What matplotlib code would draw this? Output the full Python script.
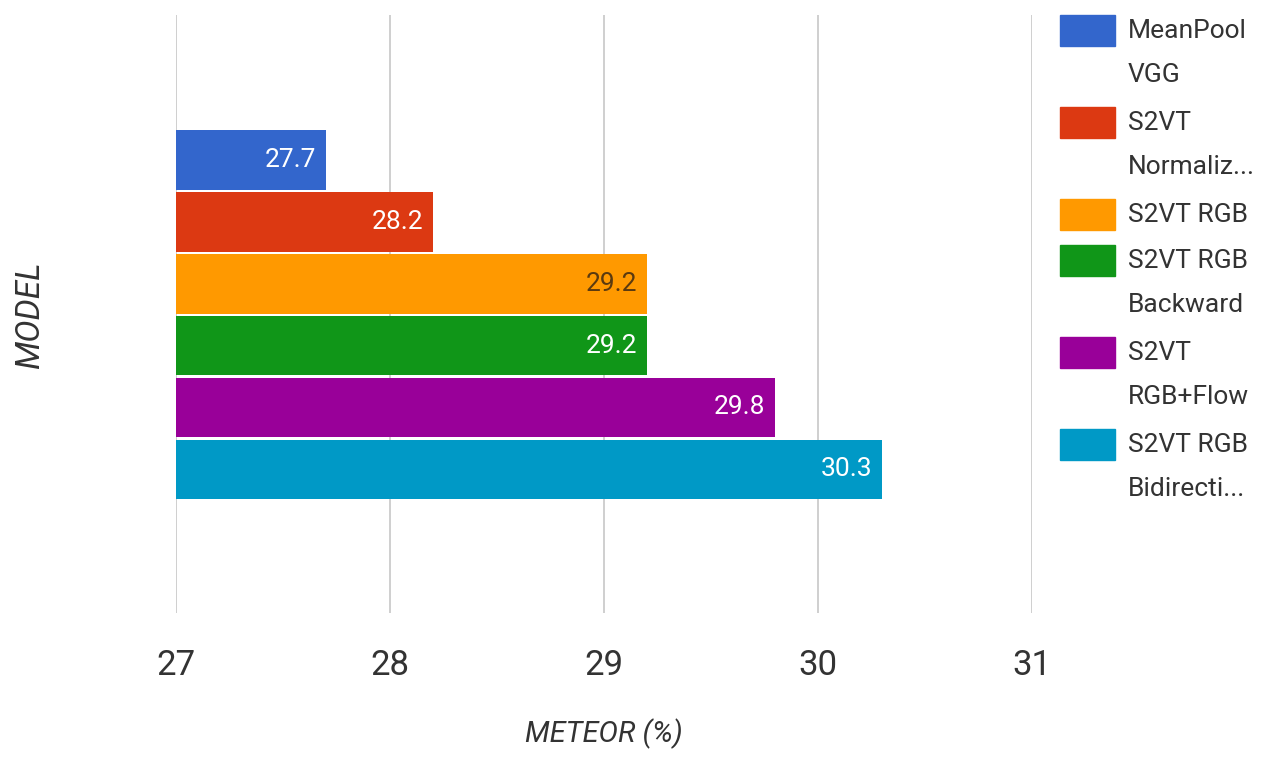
import matplotlib.pyplot as plt
from matplotlib.patches import Rectangle

plt.rcParams['font.family'] = ['Roboto', 'DejaVu Sans']

# data
models = ["MeanPool\nVGG", "S2VT\nNormaliz...", "S2VT RGB", "S2VT RGB\nBackward",
          "S2VT\nRGB+Flow", "S2VT RGB\nBidirecti..."]
meteor = [27.7, 28.2, 29.2, 29.2, 29.8, 30.3]
colors = ["#3366cc", "#dc3912", "#ff9900", "#109618", "#990099", "#0099c6"]
label_colors = ["white", "white", "#5a3a10", "white", "white", "white"]
xticks = [27, 28, 29, 30, 31]

fig = plt.figure(figsize=(12.7, 7.59), dpi=100)
ax = fig.add_axes([176 / 1270, 1 - 613 / 759, (1032 - 176) / 1270, (613 - 15) / 759])

pos = list(range(len(meteor)))
ax.barh(pos, [v - 27 for v in meteor], left=27, height=0.965, color=colors, zorder=2)

for i, v in enumerate(meteor):
    ax.annotate(f"{v}", (v, i), xytext=(-7, 0), textcoords="offset points",
                ha="right", va="center", color=label_colors[i], fontsize=19)

ax.set_xlim(27, 31)
ax.set_ylim(7.32, -2.34)
ax.set_xticks(xticks)
ax.set_xticklabels([str(t) for t in xticks], fontsize=25, color="#333333")
ax.set_yticks([])
ax.tick_params(axis="x", length=0, pad=26)
ax.grid(axis="x", color="#cccccc", linewidth=1.3, zorder=0)
for s in ax.spines.values():
    s.set_visible(False)

ax.set_xlabel("METEOR (%)", fontsize=21, style="italic", color="#333333", labelpad=26)
fig.text(30 / 1270, 1 - 315 / 759, "MODEL", rotation=90, fontsize=24, style="italic",
         color="#333333", ha="center", va="center")

# legend drawn by hand (two-line labels, box aligned with first line)
y = 15
for lab, c in zip(models, colors):
    fig.add_artist(Rectangle((1060 / 1270, 1 - (y + 31) / 759), 55 / 1270, 31 / 759,
                             transform=fig.transFigure, color=c))
    for j, line in enumerate(lab.split("\n")):
        fig.text(1128 / 1270, 1 - (y + 16 + j * 44) / 759, line, fontsize=19,
                 color="#333333", ha="left", va="center")
    y += 46 * len(lab.split("\n"))

fig.savefig("out.png", dpi=100, facecolor="white")
